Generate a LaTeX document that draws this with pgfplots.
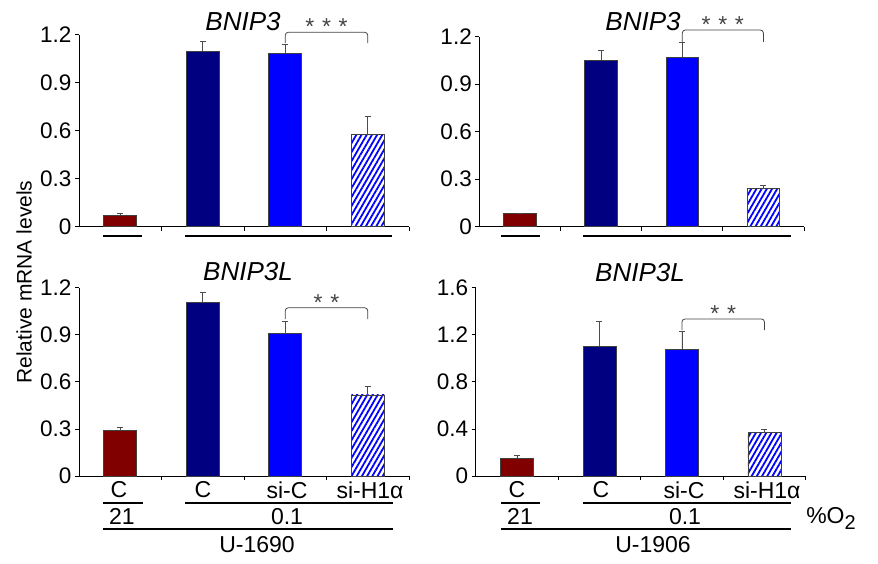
\documentclass[border=0pt]{standalone}
\usepackage{fontspec}
\setmainfont{Liberation Sans}
\usepackage{pgfplots}
\pgfplotsset{compat=1.18}
\usetikzlibrary{patterns.meta}
\definecolor{Maroon}{HTML}{800000}
\definecolor{Navy}{HTML}{000080}
\definecolor{Blu}{HTML}{0000FF}
\definecolor{StarGray}{HTML}{444444}

\tikzset{stars/.style={StarGray, font=\fontsize{23}{23}\selectfont}}
\pgfplotsset{
  panel/.style={
    scale only axis,
    anchor=south west,
    axis x line*=bottom, axis y line*=left,
    axis line style={-, line width=1pt},
    xmin=0.5, xmax=4.5, ymin=0,
    xtick={1.5,2.5,3.5,4.5}, xticklabels={},
    tick align=outside, major tick length=4pt,
    tick style={black, line width=0.8pt},
    tick label style={font=\fontsize{22.5}{24}\selectfont},
    /pgf/number format/assume math mode=true,
    clip=false,
  },
  bb/.style={ybar, bar width=0.4, bar shift=0pt, draw=black!75, line width=0.7pt,
    error bars/.cd, y dir=plus, y explicit,
    error bar style={black!70, line width=0.8pt},
    error mark options={black!70, line width=0.8pt, mark size=3pt, rotate=90},
    /pgfplots/.cd},
  hatch/.style={pattern={Lines[angle=60,distance=4.5pt,line width=1.8pt]}, pattern color=Blu},
}

\begin{document}
\begin{tikzpicture}[x=1pt,y=1pt]
\useasboundingbox (0,0) rectangle (878,563);

% top left: BNIP3, U-1690
\begin{axis}[panel, at={(79pt,336.3pt)}, width=330pt, height=192pt,
  ymax=1.2, ytick={0,0.3,0.6,0.9,1.2}, yticklabels={0,0.3,0.6,0.9,1.2}]
  \addplot[bb, fill=Maroon] coordinates {(1,0.073) +- (0,0.011)};
  \addplot[bb, fill=Navy] coordinates {(2,1.098) +- (0,0.058)};
  \addplot[bb, fill=Blu] coordinates {(3,1.086) +- (0,0.054)};
  \addplot[bb, hatch] coordinates {(4,0.575) +- (0,0.112)};
  \draw[StarGray, line width=0.8pt, rounded corners=3pt]
    (axis cs:3,1.148) -- (axis cs:3,1.215) -- (axis cs:4,1.215) -- (axis cs:4,1.148);
  \node[stars] at (axis cs:3.5,1.25) {*\,\,*\,\,*};
\end{axis}

% top right: BNIP3, U-1906
\begin{axis}[panel, at={(479.3pt,336.3pt)}, width=324.7pt, height=190pt,
  ymax=1.2, ytick={0,0.3,0.6,0.9,1.2}, yticklabels={0,0.3,0.6,0.9,1.2}]
  \addplot[bb, fill=Maroon] coordinates {(1,0.084) +- (0,0.0)};
  \addplot[bb, fill=Navy] coordinates {(2,1.051) +- (0,0.065)};
  \addplot[bb, fill=Blu] coordinates {(3,1.069) +- (0,0.093)};
  \addplot[bb, hatch] coordinates {(4,0.240) +- (0,0.021)};
  \draw[StarGray, line width=0.8pt, rounded corners=3pt]
    (axis cs:3,1.168) -- (axis cs:3,1.242) -- (axis cs:4,1.242) -- (axis cs:4,1.168);
  \node[stars] at (axis cs:3.5,1.275) {*\,\,*\,\,*};
\end{axis}

% bottom left: BNIP3L, U-1690
\begin{axis}[panel, at={(79pt,87pt)}, width=330pt, height=188.3pt,
  ymax=1.2, ytick={0,0.3,0.6,0.9,1.2}, yticklabels={0,0.3,0.6,0.9,1.2}]
  \addplot[bb, fill=Maroon] coordinates {(1,0.289) +- (0,0.021)};
  \addplot[bb, fill=Navy] coordinates {(2,1.106) +- (0,0.064)};
  \addplot[bb, fill=Blu] coordinates {(3,0.906) +- (0,0.079)};
  \addplot[bb, hatch] coordinates {(4,0.517) +- (0,0.057)};
  \draw[StarGray, line width=0.8pt, rounded corners=3pt]
    (axis cs:3,1.0) -- (axis cs:3,1.072) -- (axis cs:4,1.072) -- (axis cs:4,1.0);
  \node[stars] at (axis cs:3.5,1.105) {*\,\,*};
\end{axis}

% bottom right: BNIP3L, U-1906
\begin{axis}[panel, at={(475.7pt,87pt)}, width=330pt, height=188.3pt,
  ymax=1.6, ytick={0,0.4,0.8,1.2,1.6}, yticklabels={0,0.4,0.8,1.2,1.6}]
  \addplot[bb, fill=Maroon] coordinates {(1,0.150) +- (0,0.028)};
  \addplot[bb, fill=Navy] coordinates {(2,1.105) +- (0,0.206)};
  \addplot[bb, fill=Blu] coordinates {(3,1.077) +- (0,0.149)};
  \addplot[bb, hatch] coordinates {(4,0.368) +- (0,0.032)};
  \draw[StarGray, line width=0.8pt, rounded corners=3pt]
    (axis cs:3,1.24) -- (axis cs:3,1.334) -- (axis cs:4,1.334) -- (axis cs:4,1.24);
  \node[stars] at (axis cs:3.5,1.38) {*\,\,*};
\end{axis}

% titles
\begin{scope}[font=\fontsize{26}{28}\selectfont\itshape]
  \node at (243,541) {BNIP3};
  \node at (643,541) {BNIP3};
  \node at (248,291) {BNIP3L};
  \node at (640,290) {BNIP3L};
\end{scope}

% y label
\node[rotate=90, font=\fontsize{21}{22}\selectfont] at (24,281) {Relative mRNA levels};

% group lines under top panels
\draw[line width=2pt] (103,327) -- (142,327) (185,327) -- (392,327);
\draw[line width=2pt] (501,327) -- (540,327) (583,327) -- (791,327);

% bottom labels
\begin{scope}[font=\fontsize{23}{25}\selectfont]
  \node at (119,73) {C};
  \node at (203,73) {C};
  \node at (287,73) {si-C};
  \node at (370,73) {si-H1α};
  \node at (122,46.3) {21};
  \node at (287,46.3) {0.1};
  \node at (257,18) {U-1690};
  \node at (517,73) {C};
  \node at (601,73) {C};
  \node at (684,73) {si-C};
  \node at (767,73) {si-H1α};
  \node at (520,46.3) {21};
  \node at (685,46.3) {0.1};
  \node at (653,18) {U-1906};
  \node at (831,45) {\%O\raisebox{-6pt}{\fontsize{20}{20}\selectfont 2}};
\end{scope}
\draw[line width=2pt] (103,60.3) -- (143,60.3) (185,60.3) -- (393,60.3);
\draw[line width=2pt] (103,34) -- (393,34);
\draw[line width=2pt] (501,60.3) -- (540,60.3) (583,60.3) -- (791,60.3);
\draw[line width=2pt] (501,34) -- (791,34);
\end{tikzpicture}
\end{document}
